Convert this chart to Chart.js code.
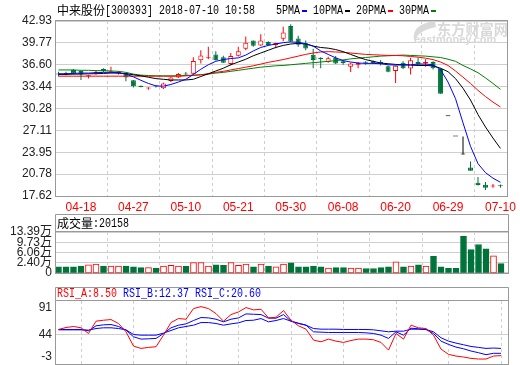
<!DOCTYPE html>
<html><head><meta charset="utf-8">
<script src="https://cdn.jsdelivr.net/npm/chart.js@4.4.1/dist/chart.umd.min.js"></script>
<style>
html,body{margin:0;padding:0;background:#fff;width:520px;height:365px;overflow:hidden}
canvas{position:absolute;left:0}
#c1{top:0}#c2{top:214px}#c3{top:287px}
</style></head><body>
<canvas id="c1" width="520" height="214"></canvas>
<canvas id="c2" width="520" height="70"></canvas>
<canvas id="c3" width="520" height="78"></canvas>
<script>
const stockName = '中来股份', stockCode = '[300393]', stamp = '2018-07-10 10:58';
const dates = ['04-13','04-16','04-17','04-18','04-19','04-20','04-23','04-24','04-25','04-26',
 '04-27','05-02','05-03','05-04','05-07','05-08','05-09','05-10','05-11','05-14',
 '05-15','05-16','05-17','05-18','05-21','05-22','05-23','05-24','05-25','05-28',
 '05-29','05-30','05-31','06-01','06-04','06-05','06-06','06-07','06-08','06-11',
 '06-12','06-13','06-14','06-15','06-19','06-20','06-21','06-22','06-25','06-26',
 '06-27','06-28','06-29','07-02','07-03','07-04','07-05','07-06','07-09','07-10'];
const tickDates = ['04-18','04-27','05-10','05-21','05-30','06-08','06-20','06-29','07-10'];
const open = [35.3,35.4,35.85,35.7,34.95,35.35,36.0,35.5,35.35,35.4, 34.35,33.55,33.15,33.5,33.2,34.25,34.75,35.3,35.3,37.25,
 37.55,38.1,37.7,36.7,37.9,38.9,40.1,39.4,39.9,39.45, 40.35,42.2,40.4,39.7,38.05,37.6,37.0,37.6,37.1,36.3,
 36.6,37.0,37.1,37.05,36.4,35.7,36.9,36.05,37.0,36.8, 37.0,36.0,29.16,26.24,23.62,21.75,19.55,19.25,19.0,19.1];
const high = [35.6,35.6,36.0,35.8,35.15,35.85,36.1,36.3,35.7,35.45, 34.4,33.6,33.35,33.6,34.0,34.9,35.4,35.55,37.7,38.7,
 39.2,38.55,37.9,38.3,39.2,40.7,40.1,41.0,40.0,39.8, 42.1,42.45,40.8,40.1,38.9,37.7,37.75,37.85,37.25,36.9,
 37.0,37.1,37.2,37.3,36.5,36.5,37.1,37.6,37.6,37.4, 37.1,36.1,29.16,26.24,26.24,22.6,20.35,19.65,19.35,19.3];
const low = [34.9,35.1,35.2,34.4,34.6,35.2,35.5,35.4,35.2,34.2, 33.3,33.35,33.0,33.3,33.1,34.1,34.7,35.0,35.2,36.8,
 37.4,37.2,36.85,36.5,37.8,38.7,39.2,39.3,39.3,39.0, 40.0,39.9,39.2,38.7,36.1,36.1,36.9,36.7,36.6,35.55,
 36.1,36.6,36.7,36.5,35.5,33.95,36.0,35.2,36.5,36.3, 35.9,32.4,29.16,26.24,23.62,21.26,19.13,18.5,18.8,18.8];
const close = [35.2,35.25,35.3,35.25,35.05,35.6,35.65,35.65,35.55,34.75, 33.5,33.4,33.3,33.45,33.9,34.75,35.25,35.2,37.15,37.95,
 37.65,37.25,36.9,37.85,38.55,39.8,39.35,40.1,39.45,39.75, 41.25,39.95,39.5,38.95,37.3,37.45,37.55,36.8,36.85,36.8,
 36.85,36.9,36.85,36.7,35.6,36.45,36.1,37.25,36.65,37.0, 36.1,32.4,29.16,26.24,23.62,21.26,19.2,18.8,19.1,19.04];
const ma5 = [35.3,35.3,35.35,35.4,35.4,35.45,35.5,35.5,35.45,35.25, 34.85,34.35,33.9,33.55,33.5,33.75,34.1,34.5,35.2,35.95,
 36.6,37.1,37.35,37.5,37.6,38.0,38.6,39.1,39.4,39.6, 39.8,39.9,39.85,39.65,39.3,38.6,38.1,37.6,37.2,37.0,
 36.85,36.8,36.8,36.75,36.6,36.55,36.6,36.6,36.7,36.7, 36.6,35.9,34.1,31.7,28.2,24.8,22.3,21.0,20.2,19.6];
const ma10 = [35.2,35.2,35.25,35.25,35.3,35.3,35.35,35.4,35.4,35.3, 35.15,35.0,34.8,34.6,34.5,34.4,34.4,34.4,34.5,34.9,
 35.3,35.7,36.1,36.6,37.0,37.4,37.9,38.3,38.7,39.1, 39.4,39.6,39.7,39.6,39.3,39.1,39.0,38.8,38.5,38.1,
 37.7,37.35,37.1,36.85,36.75,36.65,36.6,36.55,36.5,36.5, 36.45,36.1,35.6,34.6,33.2,31.5,29.4,27.6,26.0,24.5];
const ma20 = [34.95,34.95,34.95,34.95,34.95,34.95,34.95,34.95,34.95,34.95, 34.95,34.95,34.95,34.95,34.95,34.95,34.95,35.0,35.05,35.15,
 35.3,35.5,35.65,35.85,36.05,36.25,36.45,36.7,36.95,37.15, 37.35,37.6,37.85,38.1,38.3,38.45,38.5,38.45,38.4,38.3,
 38.2,38.1,38.05,38.0,37.95,37.95,37.9,37.8,37.7,37.55, 37.35,37.0,36.5,35.7,34.8,33.9,32.9,32.0,31.2,30.5];
const ma30 = [35.85,35.85,35.85,35.8,35.8,35.75,35.75,35.7,35.65,35.5, 35.25,35.1,35.05,35.0,35.0,35.0,35.0,35.05,35.1,35.15,
 35.25,35.4,35.5,35.65,35.8,35.95,36.1,36.25,36.35,36.45, 36.5,36.6,36.7,36.8,36.9,37.0,37.1,37.2,37.3,37.45,
 37.55,37.65,37.75,37.85,37.9,37.95,38.0,37.95,37.9,37.85, 37.75,37.65,37.4,37.1,36.5,36.0,35.45,34.7,33.9,33.05];
const volume = [0.87,0.87,0.87,1.18,1.58,1.9,1.18,1.18,1.18,1.18, 0.87,0.57,0.57,0.37,1.18,1.38,1.18,1.08,2.45,2.45,
 1.18,1.58,1.38,2.45,1.38,1.9,0.87,1.9,1.18,0.87, 1.9,2.3,0.87,0.87,1.18,0.87,0.47,0.57,0.57,0.47,
 0.47,0.27,0.27,0.57,0.87,2.7,0.87,1.18,1.58,1.18, 4.63,0.87,0.37,0.37,11.95,7.07,8.9,7.38,4.84,2.0158];
const rsiA = [52.3,55.6,57.3,55.1,45.6,66.2,67.8,68.9,62.3,48.4, 24.5,20.6,22.3,23.4,42.8,64.0,70.6,69.5,87.3,90.6,
 87.3,78.9,66.2,77.3,81.7,89.0,85.1,86.2,71.7,72.8, 84.0,67.8,58.4,52.8,34.5,31.7,36.2,32.8,30.6,33.9,
 36.2,36.2,35.1,30.6,17.8,45.6,36.2,59.5,55.1,53.9, 42.8,19.5,10.6,7.8,6.2,3.9,2.8,2.8,7.8,8.50];
const rsiB = [52.3,52.3,52.3,52.3,50.1,58.4,60.1,60.6,57.3,51.2, 40.1,36.2,36.7,37.3,45.6,55.1,59.5,61.7,67.3,72.3,
 71.7,69.5,65.1,69.5,71.7,78.4,77.8,77.3,71.2,71.2, 77.3,66.2,62.8,59.5,48.4,47.8,47.3,47.3,47.3,47.3,
 47.3,46.7,45.6,42.8,37.3,48.4,42.8,54.5,53.4,52.3, 45.6,32.8,27.3,22.8,20.0,16.2,13.4,10.1,12.4,12.37];
const rsiC = [51.7,51.7,51.7,51.7,51.2,53.9,55.1,55.1,53.9,51.7, 43.9,42.8,42.8,42.8,46.2,50.6,55.1,57.3,59.5,63.9,
 63.9,62.3,59.5,61.7,63.4,67.3,67.8,70.6,65.1,67.3, 70.6,66.2,62.3,59.5,53.9,52.8,52.8,52.8,52.3,52.3,
 52.3,52.3,51.7,50.1,48.4,49.5,49.5,52.8,52.8,52.3, 48.4,38.4,32.8,29.5,26.7,23.9,22.3,20.6,21.2,20.60];
const priceTicks = [17.62,20.78,23.95,27.11,30.28,33.44,36.60,39.77,42.93];
const volumeTicks = [2.40,6.06,9.73,13.39];
const volumeAxisMin = -1.26;
const rsiTicks = [91,44,-3];
const rsiGridValue = 44;

const RED = '#ff0000', GREEN = '#00733a', BLUE = '#0000ff', FRAME = '#999999', GRID = '#cfcfcf';
const X_MIN = -1/3, X_MAX = 59.9333;
const idx = dates.map((_, i) => i);
const tickIdx = tickDates.map(d => dates.indexOf(d));
const candleCol = i => close[i] > open[i] ? RED : (close[i] < open[i] ? GREEN : '#000000');
const volCol = i => close[i] > open[i] ? RED : GREEN;
const SANS = '"Liberation Sans", "Noto Sans CJK SC"';

function xScale(showLabels, h) {
  return {
    type: 'linear', min: X_MIN, max: X_MAX, offset: false,
    afterBuildTicks: s => { s.ticks = tickIdx.map(v => ({value: v})); },
    afterFit: s => { s.height = h; },
    ticks: { display: showLabels, autoSkip: false, maxRotation: 0, minRotation: 0, padding: 4,
      color: RED, font: {family: SANS, size: 12}, callback: v => dates[v] },
    grid: { color: GRID, lineWidth: 1, drawTicks: false },
    border: { display: false, dash: [3, 3] }
  };
}
function cjk(ctx, s, x, y, color, size) {
  ctx.font = (size || 12) + 'px "Noto Sans CJK SC"'; ctx.fillStyle = color;
  ctx.textBaseline = 'middle'; ctx.textAlign = 'left'; ctx.fillText(s, x, y);
  return x + ctx.measureText(s).width;
}
function mono(ctx, s, x, y, color) {
  ctx.font = '12px "Liberation Mono"'; ctx.fillStyle = color;
  ctx.textBaseline = 'middle'; ctx.textAlign = 'left'; ctx.fillText(s, x, y, s.length * 6);
  return x + s.length * 6;
}
function frame(chart, boxTop) {
  const {ctx, chartArea: a} = chart;
  ctx.save(); ctx.strokeStyle = FRAME; ctx.lineWidth = 1;
  const l = Math.round(a.left) - 0.5, r = Math.round(a.right) + 0.5;
  const t = Math.round(a.top) - 0.5, b = Math.round(a.bottom) + 0.5;
  ctx.strokeRect(l, t, r - l, b - t);
  if (boxTop !== undefined) {
    ctx.beginPath();
    ctx.moveTo(l, boxTop); ctx.lineTo(r, boxTop);
    ctx.moveTo(l, boxTop); ctx.lineTo(l, t);
    ctx.moveTo(r, boxTop); ctx.lineTo(r, t);
    ctx.stroke();
  }
  ctx.restore();
}
const common = { responsive: false, animation: false, devicePixelRatio: 1,
  plugins: { legend: { display: false }, tooltip: { enabled: false } } };

// ---------- main price chart ----------
new Chart(document.getElementById('c1'), {
  type: 'bar',
  data: { datasets: [
    { type: 'line', data: idx.map(i => ({x: i, y: ma5[i]})), borderColor: BLUE, borderWidth: 1, pointRadius: 0, order: 0 },
    { type: 'line', data: idx.map(i => ({x: i, y: ma10[i]})), borderColor: '#000000', borderWidth: 1, pointRadius: 0, order: 1 },
    { type: 'line', data: idx.map(i => ({x: i, y: ma20[i]})), borderColor: RED, borderWidth: 1, pointRadius: 0, order: 2 },
    { type: 'line', data: idx.map(i => ({x: i, y: ma30[i]})), borderColor: '#008000', borderWidth: 1, pointRadius: 0, order: 3 },
    { type: 'bar', data: idx.map(i => ({x: i, y: [open[i], close[i]]})), grouped: false, maxBarThickness: 5, minBarLength: 1,
      borderWidth: 1, borderSkipped: false,
      backgroundColor: c => c.dataIndex === undefined ? GREEN : (close[c.dataIndex] > open[c.dataIndex] ? '#ffffff' : candleCol(c.dataIndex)),
      borderColor: c => c.dataIndex === undefined ? GREEN : candleCol(c.dataIndex), order: 4 },
    { type: 'bar', data: idx.map(i => ({x: i, y: [low[i], high[i]]})), grouped: false, maxBarThickness: 1, borderWidth: 0,
      backgroundColor: c => c.dataIndex === undefined ? GREEN : candleCol(c.dataIndex), order: 5 }
  ]},
  options: Object.assign({}, common, {
    layout: { padding: { top: 21, right: 12, left: 0, bottom: 0 } },
    scales: {
      x: xScale(true, 18),
      y: { min: 17.62, max: 42.93,
        afterBuildTicks: s => { s.ticks = priceTicks.map(v => ({value: v})); },
        afterFit: s => { s.width = 56; },
        ticks: { autoSkip: false, padding: 4, color: '#222', font: {family: SANS, size: 12}, callback: v => v.toFixed(2) },
        grid: { color: GRID, drawTicks: false }, border: { display: false } }
    }
  }),
  plugins: [{
    id: 'mainDeco',
    beforeDatasetsDraw(chart) {
      const ctx = chart.ctx; ctx.save();
      ctx.fillStyle = '#d9d9d9';
      ctx.beginPath(); ctx.moveTo(435, 21); ctx.quadraticCurveTo(411, 24, 414, 41);
      ctx.quadraticCurveTo(419, 30, 436, 27); ctx.closePath(); ctx.fill();
      ctx.font = 'bold 15px "Noto Sans CJK SC"'; ctx.textBaseline = 'middle'; ctx.textAlign = 'left';
      ctx.fillText('东方财富网', 437, 29, 71);
      ctx.font = 'bold 11px "Liberation Sans"';
      ctx.fillText('eastmoney.com', 414, 40, 94);
      ctx.restore();
    },
    afterDraw(chart) {
      const ctx = chart.ctx; ctx.save();
      frame(chart);
      const x = cjk(ctx, stockName, 57, 10.5, '#000');
      mono(ctx, stockCode + ' ' + stamp, x, 10.5, '#000');
      const items = [['5PMA', BLUE], ['10PMA', '#000000'], ['20PMA', RED], ['30PMA', '#008000']];
      let lx = 276;
      items.forEach(([t, c]) => {
        lx = mono(ctx, t, lx, 11, '#000');
        ctx.fillStyle = c; ctx.fillRect(lx + 2, 10, 5, 2);
        lx += 13;
      });
      ctx.restore();
    }
  }]
});

// ---------- volume chart ----------
const volLabel = v => v === volumeAxisMin ? '0' : v.toFixed(2) + '万';
new Chart(document.getElementById('c2'), {
  type: 'bar',
  data: { datasets: [
    { data: idx.map(i => ({x: i, y: [volumeAxisMin, volume[i]]})), grouped: false, maxBarThickness: 6,
      barPercentage: 1, categoryPercentage: 1, borderWidth: 1, borderSkipped: false,
      backgroundColor: c => c.dataIndex === undefined ? GREEN : (volCol(c.dataIndex) === RED ? '#ffffff' : GREEN),
      borderColor: c => c.dataIndex === undefined ? GREEN : volCol(c.dataIndex) }
  ]},
  options: Object.assign({}, common, {
    layout: { padding: { top: 18, right: 12, left: 0, bottom: 0 } },
    scales: {
      x: xScale(false, 4),
      y: { min: volumeAxisMin, max: volumeTicks[volumeTicks.length - 1],
        afterBuildTicks: s => { s.ticks = [volumeAxisMin].concat(volumeTicks).map(v => ({value: v})); },
        afterFit: s => { s.width = 56; },
        ticks: { autoSkip: false, padding: 4, color: '#222', font: {family: SANS, size: 12}, callback: v => volLabel(v) },
        grid: { color: GRID, drawTicks: false }, border: { display: false } }
    }
  }),
  plugins: [{
    id: 'volDeco',
    afterDraw(chart) {
      const ctx = chart.ctx; ctx.save();
      frame(chart, 0.5);
      const x = cjk(ctx, '成交量', 57, 9.5, '#000');
      mono(ctx, ':' + Math.round(volume[volume.length - 1] * 10000), x, 9.5, '#000');
      ctx.restore();
    }
  }]
});

// ---------- RSI chart ----------
new Chart(document.getElementById('c3'), {
  type: 'line',
  data: { datasets: [
    { data: idx.map(i => ({x: i, y: rsiA[i]})), borderColor: RED, borderWidth: 1, pointRadius: 0, order: 0 },
    { data: idx.map(i => ({x: i, y: rsiB[i]})), borderColor: BLUE, borderWidth: 1, pointRadius: 0, order: 1 },
    { data: idx.map(i => ({x: i, y: rsiC[i]})), borderColor: BLUE, borderWidth: 1, pointRadius: 0, order: 2 }
  ]},
  options: Object.assign({}, common, {
    layout: { padding: { top: 14, right: 12, left: 0, bottom: 0 } },
    scales: {
      x: xScale(false, 1),
      y: { min: -5.5, max: 100,
        afterBuildTicks: s => { s.ticks = rsiTicks.map(v => ({value: v})); },
        afterFit: s => { s.width = 56; },
        ticks: { display: false },
        grid: { color: c => (c.tick && c.tick.value === rsiGridValue) ? GRID : 'rgba(0,0,0,0)', drawTicks: false },
        border: { display: false } }
    }
  }),
  plugins: [{
    id: 'rsiDeco',
    afterDraw(chart) {
      const ctx = chart.ctx, a = chart.chartArea, ys = chart.scales.y; ctx.save();
      frame(chart, 0.5);
      ctx.font = '12px ' + SANS; ctx.fillStyle = '#222'; ctx.textAlign = 'right'; ctx.textBaseline = 'middle';
      rsiTicks.forEach(v => {
        let y = ys.getPixelForValue(v);
        y = Math.max(a.top + 7, Math.min(a.bottom - 7, y));
        ctx.fillText(String(v), 52, y);
      });
      let x = mono(ctx, 'RSI_A:' + rsiA[rsiA.length - 1].toFixed(2), 57, 7, RED);
      x = mono(ctx, 'RSI_B:' + rsiB[rsiB.length - 1].toFixed(2), x + 6, 7, BLUE);
      mono(ctx, 'RSI_C:' + rsiC[rsiC.length - 1].toFixed(2), x + 6, 7, BLUE);
      ctx.restore();
    }
  }]
});
</script>
</body></html>
